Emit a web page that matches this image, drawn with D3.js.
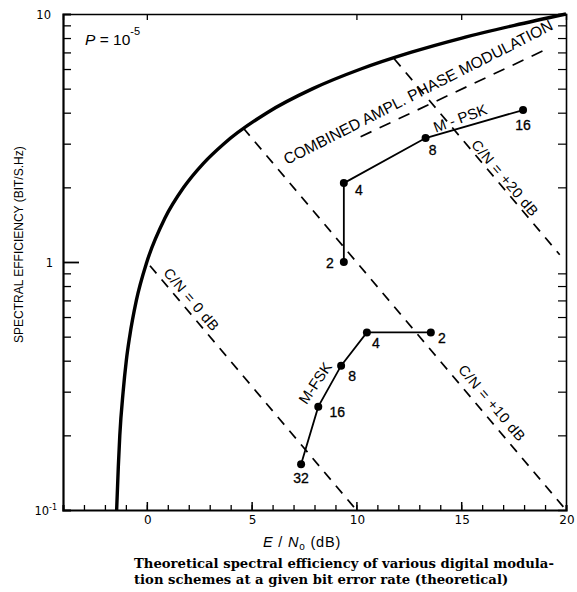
<!DOCTYPE html>
<html>
<head>
<meta charset="utf-8">
<script src="https://cdn.jsdelivr.net/npm/d3@7"></script>
<style>
  body { margin: 0; background: #fff; }
</style>
</head>
<body>
<svg id="svg" width="577" height="592" font-family="Liberation Sans, Arial, sans-serif"></svg>
<script>
// values (x: Eb/No in dB, y: bit/s/Hz, log)
var boundEbNo = [-1.44, -1.36, -1.29, -1.13, -0.98, -0.82, -0.5, 0, 0.86, 1.76, 2.7, 3.68, 5.74, 7.92, 10.21, 12.59, 15.03, 17.54, 20.0];
var boundEff  = [0.1, 0.15, 0.2, 0.3, 0.4, 0.5, 0.7, 1, 1.5, 2, 2.5, 3, 4, 5, 6, 7, 8, 9, 10];

var pskM    = ["2", "4", "8", "16"];
var pskEbNo = [9.4, 9.4, 13.3, 17.95];
var pskEff  = [1.0, 2.08, 3.16, 4.1];

var fskM    = ["2", "4", "8", "16", "32"];
var fskEbNo = [13.55, 10.5, 9.27, 8.18, 7.36];
var fskEff  = [0.52, 0.52, 0.382, 0.261, 0.153];

var cnLabels = ["C/N = 0 dB", "C/N = +10 dB", "C/N = +20 dB"];
var cnStart  = [[0.15, 0.966], [4.6, 3.47], [11.8, 6.6]];
var cnEnd    = [[10, 0.1], [20, 0.1], [19.7, 1.07]];
var cnLabelAt = [[2.13, 0.706], [16.47, 0.27], [17.09, 2.18]];

var qamLabel = "COMBINED AMPL. PHASE MODULATION";
var qamEbNo  = [10.2, 19.2];
var qamEff   = [3.2, 7.3];

var xTickLabels = [0, 5, 10, 15, 20];
var caption = ["Theoretical spectral efficiency of various digital modula-",
               "tion schemes at a given bit error rate (theoretical)"];

var svg = d3.select("#svg");

var x = d3.scaleLinear().domain([-4, 20]).range([63, 566]);
var y = d3.scaleLog().domain([0.1, 10]).range([510, 14]);

function pts(xs, ys) {
  return xs.map(function (v, i) { return [v, ys[i]]; });
}

// scale the font of a text node so its width matches what the scan shows
function fitWidth(sel, width) {
  var fs = +sel.attr("font-size");
  var w = sel.node().getComputedTextLength();
  if (w > 0) sel.attr("font-size", fs * width / w);
}

var line = d3.line()
  .x(function (d) { return x(d[0]); })
  .y(function (d) { return y(d[1]); });

// ----- axes / frame
var minorY = y.ticks().filter(function (v) { return [0.1, 1, 10].indexOf(v) < 0; });

svg.append("g")
  .attr("transform", "translate(" + x(-4) + ",0)")
  .call(d3.axisRight(y).tickValues(minorY).tickSize(8).tickFormat(""))
  .call(function (g) { g.select(".domain").attr("stroke-width", 2.2); g.selectAll(".tick line").attr("stroke-width", 1.3); });
svg.append("g")
  .attr("transform", "translate(" + x(-4) + ",0)")
  .call(d3.axisRight(y).tickValues([1]).tickSize(16).tickFormat(""))
  .call(function (g) { g.select(".domain").remove(); g.selectAll(".tick line").attr("stroke-width", 1.8); });

svg.append("g")
  .attr("transform", "translate(" + x(20) + ",0)")
  .call(d3.axisLeft(y).tickValues(minorY).tickSize(8).tickFormat(""))
  .call(function (g) { g.select(".domain").attr("stroke-width", 1.6); g.selectAll(".tick line").attr("stroke-width", 1.2); });

svg.append("g")
  .attr("transform", "translate(0," + y(0.1) + ")")
  .call(d3.axisTop(x).tickValues(d3.range(-3, 20)).tickSize(5).tickFormat(""))
  .call(function (g) { g.select(".domain").attr("stroke-width", 2.2); g.selectAll(".tick line").attr("stroke-width", 1.3); });
svg.append("g")
  .attr("transform", "translate(0," + y(0.1) + ")")
  .call(d3.axisTop(x).tickValues([0, 5, 10, 15]).tickSize(8).tickFormat(""))
  .call(function (g) { g.select(".domain").remove(); g.selectAll(".tick line").attr("stroke-width", 1.5); });

svg.append("g")
  .attr("transform", "translate(0," + y(10) + ")")
  .call(d3.axisBottom(x).tickValues([0, 10, 15]).tickSize(6).tickFormat(""))
  .call(function (g) { g.select(".domain").attr("stroke-width", 1.4); g.selectAll(".tick line").attr("stroke-width", 1.3); });

svg.selectAll("g .domain").attr("stroke", "#000");

// tick labels
svg.append("g")
  .attr("font-family", "DejaVu Sans, sans-serif")
  .attr("font-size", 12)
  .attr("text-anchor", "middle")
  .selectAll("text")
  .data(xTickLabels)
  .enter()
  .append("text")
  .attr("x", function (d) { return x(d) + 1; })
  .attr("y", y(0.1) + 14)
  .text(function (d) { return d; });

var yl = svg.append("g")
  .attr("font-family", "DejaVu Sans, sans-serif")
  .attr("font-size", 11.5)
  .attr("text-anchor", "end");
yl.append("text").attr("x", 51).attr("y", y(10) + 4.5).text("10");
yl.append("text").attr("x", 53).attr("y", y(1) + 5).text("1");
var t01 = yl.append("text").attr("x", 57).attr("y", y(0.1) + 5);
t01.append("tspan").text("10");
t01.append("tspan").attr("font-size", 8).attr("dy", -5).text("-1");

// axis titles
svg.append("text")
  .attr("transform", "translate(23,343) rotate(-90)")
  .attr("font-size", 12)
  .text("SPECTRAL EFFICIENCY (BIT/S.Hz)");

var xt = svg.append("text")
  .attr("x", 263)
  .attr("y", 547)
  .attr("font-size", 14.5)
  .attr("letter-spacing", 0.8);
xt.append("tspan").attr("font-style", "italic").text("E");
xt.append("tspan").text(" / ");
xt.append("tspan").attr("font-style", "italic").text("N");
xt.append("tspan").attr("font-size", 10).attr("dy", 3).text("o");
xt.append("tspan").attr("dy", -3).text(" (dB)");

var pl = svg.append("text").attr("x", 85).attr("y", 45).attr("font-size", 15.5);
pl.append("tspan").attr("font-style", "italic").text("P");
pl.append("tspan").text(" = 10");
pl.append("tspan").attr("font-size", 11).attr("dy", -10).text("-5");

// ----- C/N dashed lines
var cnAngle = Math.atan2(y(0.1) - y(1), x(10) - x(0)) * 180 / Math.PI;

svg.append("g")
  .selectAll("path")
  .data(cnLabels)
  .enter()
  .append("path")
  .attr("d", function (d, i) { return line([cnStart[i], cnEnd[i]]); })
  .attr("fill", "none")
  .attr("stroke", "#000")
  .attr("stroke-width", 1.7)
  .attr("stroke-dasharray", "10,8");

svg.append("g")
  .selectAll("text")
  .data(cnLabels)
  .enter()
  .append("text")
  .attr("transform", function (d, i) {
    return "translate(" + x(cnLabelAt[i][0]) + "," + y(cnLabelAt[i][1]) + ") rotate(" + cnAngle + ")";
  })
  .attr("text-anchor", "middle")
  .attr("dy", "0.35em")
  .attr("font-size", 14.5)
  .attr("letter-spacing", 0.6)
  .text(function (d) { return d; });

// ----- combined amplitude/phase modulation
svg.append("path")
  .attr("d", line(pts(qamEbNo, qamEff)))
  .attr("fill", "none")
  .attr("stroke", "#000")
  .attr("stroke-width", 1.7)
  .attr("stroke-dasharray", "12,9");

var qt = svg.append("text")
  .attr("transform", "translate(" + x(12.94) + "," + y(4.84) + ") rotate(-27)")
  .attr("text-anchor", "middle")
  .attr("dy", "0.35em")
  .attr("font-size", 15.5)
  .text(qamLabel);
fitWidth(qt, 300);

// ----- Shannon bound (thick)
svg.append("path")
  .attr("d", line.curve(d3.curveMonotoneX)(pts(boundEbNo, boundEff)))
  .attr("fill", "none")
  .attr("stroke", "#000")
  .attr("stroke-width", 3.4);
line.curve(d3.curveLinear);

// ----- M-PSK / M-FSK
function scheme(ms, xs, ys, offs, name, namePos, nameAngle) {
  var g = svg.append("g");
  var data = pts(xs, ys);
  g.append("path")
    .attr("d", line(data))
    .attr("fill", "none")
    .attr("stroke", "#000")
    .attr("stroke-width", 1.8);
  g.selectAll("circle")
    .data(data)
    .enter()
    .append("circle")
    .attr("cx", function (d) { return x(d[0]); })
    .attr("cy", function (d) { return y(d[1]); })
    .attr("r", 4);
  g.selectAll("text.m")
    .data(ms)
    .enter()
    .append("text")
    .attr("class", "m")
    .attr("x", function (d, i) { return x(xs[i]) + offs[i][0]; })
    .attr("y", function (d, i) { return y(ys[i]) + offs[i][1]; })
    .attr("text-anchor", "middle")
    .attr("dy", "0.35em")
    .attr("font-size", 14)
    .attr("stroke", "#000")
    .attr("stroke-width", 0.3)
    .text(function (d) { return d; });
  g.append("text")
    .attr("transform", "translate(" + x(namePos[0]) + "," + y(namePos[1]) + ") rotate(" + nameAngle + ")")
    .attr("text-anchor", "middle")
    .attr("dy", "0.35em")
    .attr("font-size", 15)
    .text(name);
}

scheme(pskM, pskEbNo, pskEff, [[-14, 1], [15, 7], [7, 12], [0, 15]], "M - PSK", [14.95, 3.8], -20);
scheme(fskM, fskEbNo, fskEff, [[11, 6], [9, 11], [11, 10], [19, 5], [0, 14]], "M-FSK", [8.03, 0.325], -56);

// ----- caption
var cap = svg.append("g")
  .attr("font-family", "DejaVu Serif, serif")
  .attr("font-weight", "bold")
  .attr("font-size", 12);
var capLines = cap.selectAll("text")
  .data(caption)
  .enter()
  .append("text")
  .attr("x", 134)
  .attr("y", function (d, i) { return 568 + i * 16; })
  .text(function (d) { return d; });
var capW = capLines.nodes()[0].getComputedTextLength();
cap.attr("font-size", 12 * 420 / capW);
</script>
</body>
</html>
